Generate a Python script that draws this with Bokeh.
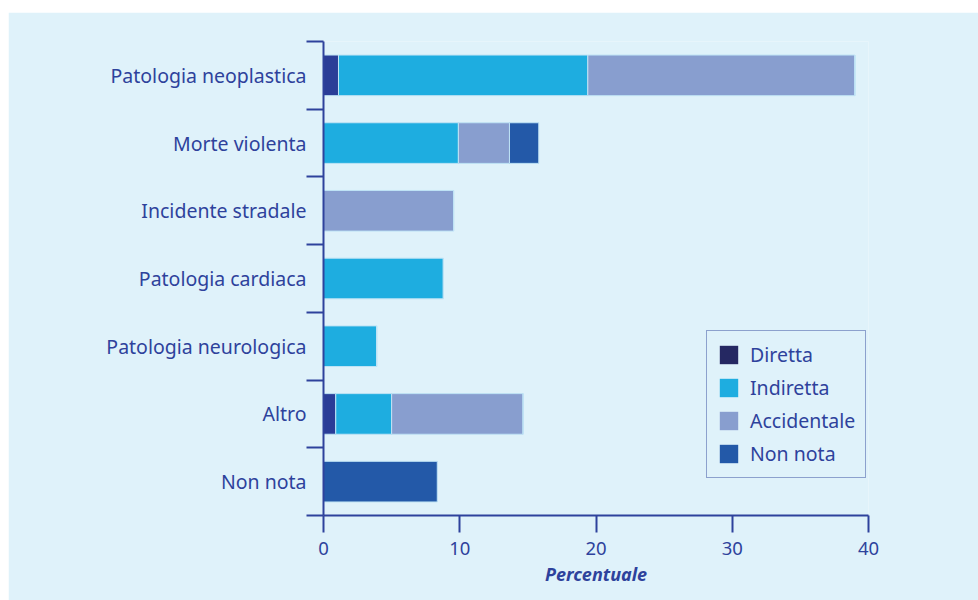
from bokeh.plotting import figure
from bokeh.models import FixedTicker, Legend, LegendItem, ColumnDataSource
from bokeh.embed import file_html
from bokeh.resources import INLINE

categories = ["Patologia neoplastica", "Morte violenta", "Incidente stradale",
              "Patologia cardiaca", "Patologia neurologica", "Altro", "Non nota"]
diretta = [1.1, 0, 0, 0, 0, 0.9, 0]
indiretta = [18.3, 9.9, 0, 8.8, 3.9, 4.1, 0]
accidentale = [19.6, 3.75, 9.55, 0, 0, 9.65, 0]
non_nota = [0, 2.15, 0, 0, 0, 0, 8.35]
series = ["Diretta", "Indiretta", "Accidentale", "Non nota"]
x_ticks = [0, 10, 20, 30, 40]
x_title = "Percentuale"

bar_colors = ["#2a3d97", "#1eade0", "#889ecf", "#2359a8"]
legend_colors = ["#252862", "#1eade0", "#889ecf", "#2359a8"]
txt = "#2e429c"
bg = "#dff2fa"
font = "Noto Sans"

n = len(categories)
ys = [n - i - 0.5 for i in range(n)]
zeros = [0] * n
src = ColumnDataSource(dict(y=ys, zero=zeros, Diretta=diretta, Indiretta=indiretta,
                            Accidentale=accidentale, NonNota=non_nota))

p = figure(width=970, height=588, output_backend="svg", toolbar_location=None,
           x_range=(x_ticks[0], x_ticks[-1]), y_range=(0, n),
           min_border_left=315, min_border_right=110, min_border_top=29, min_border_bottom=85)
p.margin = (12, 0, 0, 8)
p.background_fill_color = bg
p.border_fill_color = bg
p.outline_line_color = None
p.grid.visible = False

p.hbar_stack(["Diretta", "Indiretta", "Accidentale", "NonNota"], y="y", height=0.6,
             fill_color=bar_colors, line_color="#bfe3f5", line_width=1, source=src)

# zero-width bars used only as legend swatches
items = []
for name, c in zip(series, legend_colors):
    r = p.hbar(y="y", left="zero", right="zero", height=0.6, source=src,
               fill_color=c, line_color=None)
    items.append(LegendItem(label=name, renderers=[r]))

legend = Legend(items=items, location=(383, 37))
legend.glyph_width = 23
legend.glyph_height = 23
legend.spacing = 6
legend.padding = 10
legend.margin = 0
legend.label_standoff = 10
legend.label_text_font = font
legend.label_text_font_size = "19.5px"
legend.label_text_color = txt
legend.border_line_color = "#3a4fa0"
legend.border_line_width = 1.5
legend.background_fill_color = bg
legend.background_fill_alpha = 1
p.add_layout(legend)

xa = p.xaxis[0]
xa.ticker = FixedTicker(ticks=x_ticks)
xa.axis_line_color = txt
xa.axis_line_width = 2
xa.major_tick_line_color = txt
xa.major_tick_line_width = 2
xa.major_tick_in = 0
xa.major_tick_out = 17
xa.minor_tick_line_color = None
xa.major_label_text_font = font
xa.major_label_text_font_size = "18.5px"
xa.major_label_text_color = txt
xa.major_label_standoff = 9
xa.axis_label = x_title
xa.axis_label_text_font = font
xa.axis_label_text_font_size = "18px"
xa.axis_label_text_font_style = "bold italic"
xa.axis_label_text_color = txt
xa.axis_label_standoff = 4

ya = p.yaxis[0]
ya.ticker = FixedTicker(ticks=ys, minor_ticks=list(range(n + 1)))
ya.major_label_overrides = {y: c for y, c in zip(ys, categories)}
ya.axis_line_color = txt
ya.axis_line_width = 2
ya.major_tick_line_color = None
ya.major_tick_in = 0
ya.major_tick_out = 17
ya.minor_tick_line_color = txt
ya.minor_tick_line_width = 2
ya.minor_tick_in = 0
ya.minor_tick_out = 17
ya.major_label_text_font = font
ya.major_label_text_font_size = "19.5px"
ya.major_label_text_color = txt
ya.major_label_standoff = 0

open("out.html", "w").write(file_html(p, INLINE))
